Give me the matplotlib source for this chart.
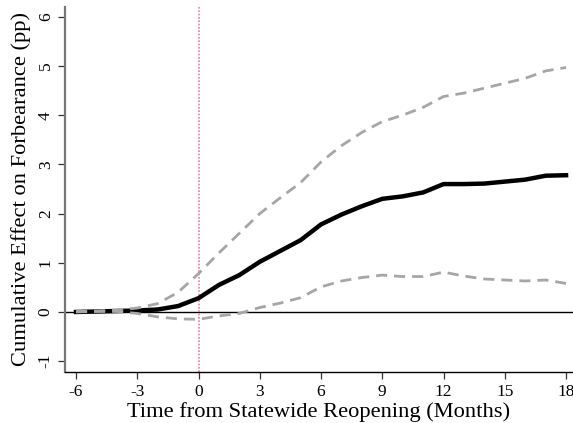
import numpy as np
import matplotlib.pyplot as plt

# event time (months from statewide reopening)
months = list(range(-6, 19))

# point estimates and 95% bounds
effect = [0.00, 0.01, 0.02, 0.03, 0.05, 0.12, 0.28, 0.55, 0.75, 1.02, 1.24, 1.46,
          1.78, 1.98, 2.15, 2.30, 2.35, 2.43, 2.60, 2.60, 2.61, 2.65, 2.69, 2.77, 2.78]
upper = [0.01, 0.02, 0.04, 0.08, 0.17, 0.40, 0.78, 1.20, 1.60, 2.00, 2.32, 2.63,
         3.05, 3.38, 3.65, 3.87, 4.00, 4.16, 4.38, 4.45, 4.55, 4.65, 4.75, 4.90, 4.97]
lower = [0.00, 0.01, 0.01, -0.03, -0.10, -0.14, -0.15, -0.08, -0.03, 0.09, 0.18, 0.29,
         0.51, 0.63, 0.70, 0.75, 0.72, 0.72, 0.81, 0.73, 0.67, 0.65, 0.63, 0.65, 0.58]

xticks = [-6, -3, 0, 3, 6, 9, 12, 15, 18]
yticks = [-1, 0, 1, 2, 3, 4, 5, 6]

plt.rcParams['font.family'] = ['Liberation Serif', 'DejaVu Serif']
plt.rcParams['axes.unicode_minus'] = False

fig = plt.figure(figsize=(5.73, 4.23), dpi=100)
ax = fig.add_axes([0.1134, 0.1206, 0.8866, 0.8629])

ax.axhline(0, color='black', lw=1.0, zorder=1)
ax.axvline(0, color='#e8809a', lw=1.2, ls=(0, (1, 1)), zorder=1)

ax.plot(months, effect, color='black', lw=3.2, zorder=2, solid_joinstyle='round')
ax.plot(months, upper, color='#a6a6a6', lw=2.0, ls=(0, (4, 2.5)), zorder=3)
ax.plot(months, lower, color='#a6a6a6', lw=2.0, ls=(0, (4, 2.5)), zorder=3)

ax.set_xlim(-6.54, 18.34)
ax.set_ylim(-1.22, 6.2)
ax.set_xticks(xticks)
ax.set_yticks(yticks)
ax.set_yticklabels([str(t) for t in yticks], rotation=90, va='center')
ax.tick_params(axis='both', labelsize=12.5, length=5, width=0.9, color='#333333')
ax.tick_params(axis='y', pad=3)

for s in ['top', 'right']:
    ax.spines[s].set_visible(False)
ax.spines['left'].set_color('#777777')
ax.spines['left'].set_linewidth(1.6)
ax.spines['bottom'].set_color('black')
ax.spines['bottom'].set_linewidth(1.0)

ax.set_xlabel('Time from Statewide Reopening (Months)', fontsize=16.2, labelpad=2)
ax.set_ylabel('Cumulative Effect on Forbearance (pp)', fontsize=16.2, labelpad=5)

fig.savefig('out.png', dpi=100)
